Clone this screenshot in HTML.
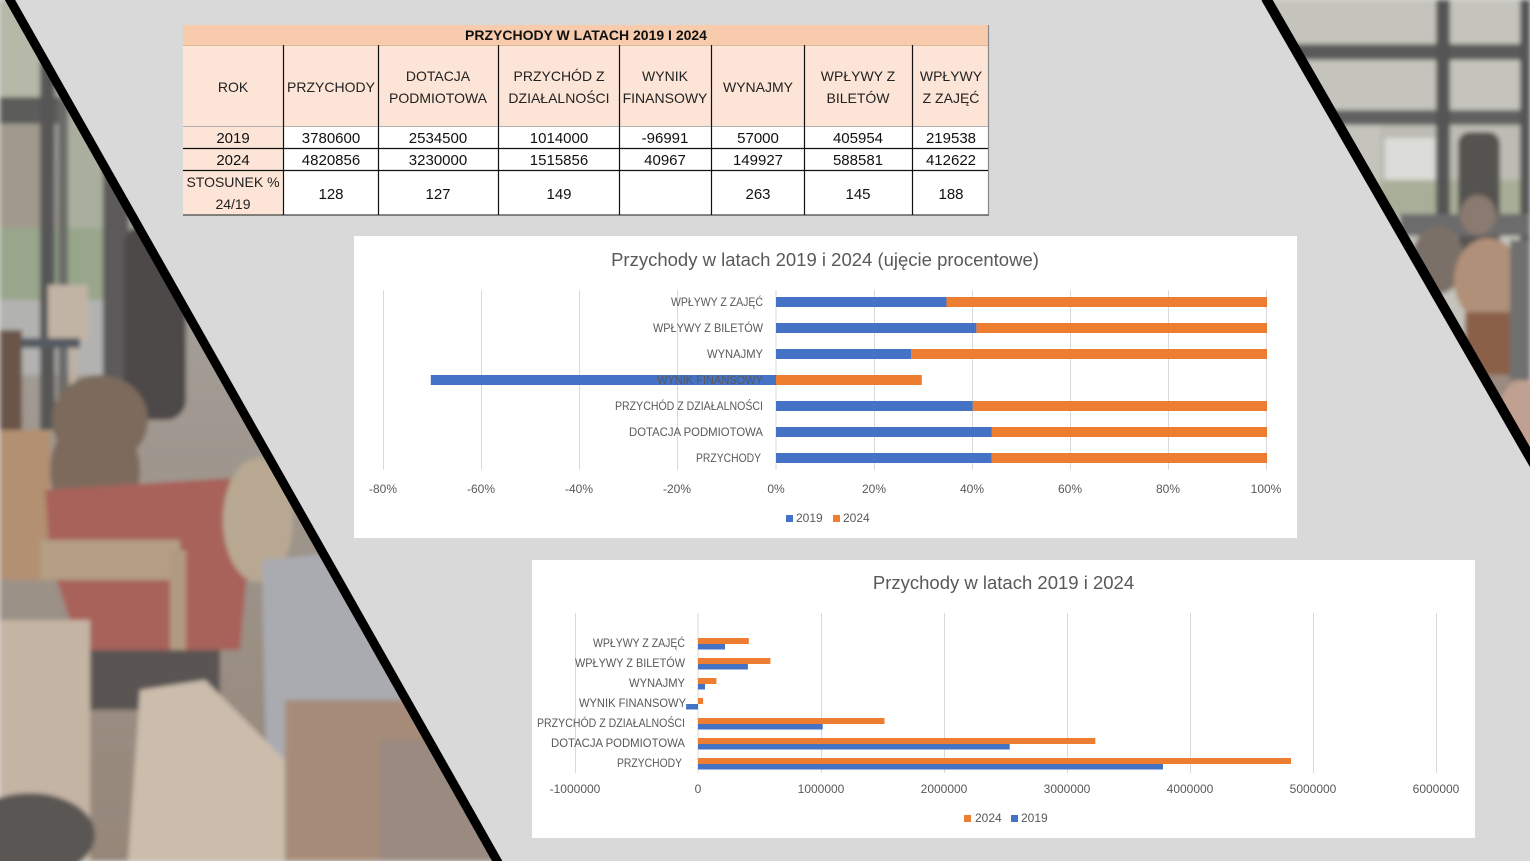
<!DOCTYPE html>
<html><head><meta charset="utf-8"><style>
html,body{margin:0;padding:0;background:#d9d9d9;}
svg{display:block;font-family:"Liberation Sans",Arial,sans-serif;}
</style></head><body>
<svg width="1530" height="861" viewBox="0 0 1530 861" xmlns="http://www.w3.org/2000/svg">
<defs>
<clipPath id="cl"><polygon points="0,0 12,0 499,861 0,861"/></clipPath>
<clipPath id="cr"><polygon points="1265,0 1530,0 1530,460"/></clipPath>
<filter id="bl" x="-5%" y="-5%" width="110%" height="110%"><feGaussianBlur stdDeviation="2.5"/></filter>
<linearGradient id="gl" x1="0" y1="0" x2="0" y2="1"><stop offset="0" stop-color="#aeaea6"/><stop offset="0.5" stop-color="#a09890"/><stop offset="1" stop-color="#958678"/></linearGradient>
</defs>
<rect width="1530" height="861" fill="#d9d9d9"/>

<!-- left photo -->
<g clip-path="url(#cl)"><g filter="url(#bl)">
<rect x="0" y="0" width="520" height="861" fill="url(#gl)"/>
<rect x="0" y="0" width="45" height="100" fill="#b6b8a8"/>
<rect x="0" y="125" width="42" height="110" fill="#a09a8c"/>
<rect x="68" y="100" width="36" height="130" fill="#a9ae9e"/>
<rect x="128" y="100" width="130" height="130" fill="#aaaaa2"/>
<rect x="0" y="228" width="104" height="75" fill="#98a68c"/>
<rect x="128" y="228" width="130" height="70" fill="#9eaa92"/>
<rect x="0" y="300" width="130" height="75" fill="#b2b2b0"/>
<rect x="0" y="97" width="62" height="27" fill="#5c5c5a"/>
<rect x="40" y="60" width="15" height="370" fill="#575757"/>
<rect x="58" y="100" width="10" height="330" fill="#6a6a68"/>
<rect x="103" y="100" width="26" height="330" fill="#5c5a5a"/>
<rect x="124" y="225" width="62" height="195" rx="20" fill="#4e4a4a"/>
<rect x="48" y="285" width="40" height="55" fill="#c2b4a4"/>
<rect x="8" y="338" width="72" height="10" fill="#555a62"/>
<rect x="12" y="348" width="6" height="70" fill="#c0b0a0"/>
<rect x="70" y="348" width="6" height="70" fill="#c0b0a0"/>
<rect x="0" y="330" width="22" height="110" fill="#6a5448"/>
<ellipse cx="100" cy="420" rx="48" ry="45" fill="#7c6a5c"/>
<rect x="0" y="430" width="50" height="150" fill="#b39072"/>
<ellipse cx="95" cy="470" rx="45" ry="55" fill="#7e6a5c"/>
<polygon points="45,490 230,478 248,560 240,650 80,650 50,560" fill="#a8625a"/>
<ellipse cx="258" cy="520" rx="35" ry="62" fill="#b8a892"/>
<polygon points="262,560 345,552 425,660 480,861 268,861" fill="#a9abb0"/>
<rect x="40" y="540" width="140" height="40" fill="#b49e84"/>
<rect x="170" y="550" width="16" height="200" fill="#b09a80"/>
<rect x="70" y="650" width="150" height="60" fill="#5a5452"/>
<rect x="0" y="620" width="90" height="241" fill="#c4b4a4"/>
<polygon points="140,690 205,680 285,760 285,861 128,861" fill="#cbbcac"/>
<ellipse cx="30" cy="835" rx="65" ry="42" fill="#5a5652"/>
<rect x="285" y="700" width="150" height="161" fill="#a68c78"/>
<rect x="380" y="740" width="120" height="121" fill="#9a8a80"/>
</g></g>
<line x1="8.9" y1="-2" x2="500" y2="866" stroke="#000" stroke-width="9"/>

<!-- right photo -->
<g clip-path="url(#cr)"><g filter="url(#bl)">
<rect x="1260" y="0" width="270" height="470" fill="#c4c4bc"/>
<rect x="1290" y="44" width="240" height="16" fill="#5a5a5a"/>
<rect x="1330" y="110" width="200" height="15" fill="#606060"/>
<rect x="1380" y="125" width="150" height="60" fill="#bcbcb4"/>
<rect x="1385" y="138" width="50" height="42" fill="#dcdcd8"/>
<rect x="1380" y="180" width="150" height="36" fill="#a8ae98"/>
<rect x="1436" y="0" width="14" height="230" fill="#555555"/>
<rect x="1520" y="0" width="10" height="240" fill="#555555"/>
<rect x="1458" y="132" width="42" height="130" rx="12" fill="#555350"/>
<rect x="1400" y="214" width="130" height="22" fill="#6c6c6c"/>
<ellipse cx="1438" cy="260" rx="26" ry="34" fill="#7a7068"/>
<ellipse cx="1478" cy="215" rx="18" ry="20" fill="#8a7a70"/>
<ellipse cx="1488" cy="280" rx="34" ry="42" fill="#b09078"/>
<rect x="1465" y="312" width="55" height="65" fill="#8a6048"/>
<rect x="1450" y="375" width="80" height="90" fill="#9a8a80"/>
<ellipse cx="1522" cy="420" rx="25" ry="40" fill="#c0a090"/>
<rect x="1510" y="240" width="20" height="140" fill="#707070"/>
</g></g>
<line x1="1265.8" y1="-2" x2="1535" y2="465.8" stroke="#000" stroke-width="10"/>

<!-- TABLE -->
<rect x="183" y="25" width="806" height="20" fill="#f8cbad"/>
<rect x="183" y="45" width="806" height="81" fill="#fce4d6"/>
<rect x="183" y="126" width="100" height="89" fill="#fce4d6"/>
<rect x="283" y="126" width="706" height="89" fill="#ffffff"/>
<g stroke="#e0b89c" stroke-width="1"><line x1="183" y1="45.5" x2="989" y2="45.5"/></g>
<g stroke="#b0b0b0" stroke-width="1"><line x1="183" y1="126.5" x2="989" y2="126.5"/></g>
<g stroke="#111" stroke-width="1.2">
<line x1="183" y1="148.5" x2="989" y2="148.5"/>
<line x1="183" y1="170.5" x2="989" y2="170.5"/>
</g>
<g stroke="#444" stroke-width="1.2"><line x1="183" y1="215" x2="989" y2="215"/><line x1="988.5" y1="25" x2="988.5" y2="215" stroke="#888"/></g>
<g stroke="#111" stroke-width="1.2">
<line x1="283.5" y1="45" x2="283.5" y2="215"/>
<line x1="378.5" y1="45" x2="378.5" y2="215"/>
<line x1="498.5" y1="45" x2="498.5" y2="215"/>
<line x1="619.5" y1="45" x2="619.5" y2="215"/>
<line x1="711.5" y1="45" x2="711.5" y2="215"/>
<line x1="804.5" y1="45" x2="804.5" y2="215"/>
<line x1="912.5" y1="45" x2="912.5" y2="215"/>
</g>
<text x="586" y="40" font-size="14" font-weight="bold" text-anchor="middle" fill="#111">PRZYCHODY W LATACH 2019 I 2024</text>
<g font-size="14" text-anchor="middle" fill="#222">
<text x="233" y="92">ROK</text>
<text x="331" y="92">PRZYCHODY</text>
<text x="438" y="81">DOTACJA</text><text x="438" y="103">PODMIOTOWA</text>
<text x="559" y="81">PRZYCHÓD Z</text><text x="559" y="103">DZIAŁALNOŚCI</text>
<text x="665" y="81">WYNIK</text><text x="665" y="103">FINANSOWY</text>
<text x="758" y="92">WYNAJMY</text>
<text x="858" y="81">WPŁYWY Z</text><text x="858" y="103">BILETÓW</text>
<text x="951" y="81">WPŁYWY</text><text x="951" y="103">Z ZAJĘĆ</text>
<text x="233" y="187">STOSUNEK %</text><text x="233" y="209">24/19</text>
</g>
<g font-size="15" text-anchor="middle" fill="#111">
<text x="233" y="143">2019</text><text x="331" y="143">3780600</text><text x="438" y="143">2534500</text><text x="559" y="143">1014000</text><text x="665" y="143">-96991</text><text x="758" y="143">57000</text><text x="858" y="143">405954</text><text x="951" y="143">219538</text>
<text x="233" y="165">2024</text><text x="331" y="165">4820856</text><text x="438" y="165">3230000</text><text x="559" y="165">1515856</text><text x="665" y="165">40967</text><text x="758" y="165">149927</text><text x="858" y="165">588581</text><text x="951" y="165">412622</text>
<text x="331" y="199">128</text><text x="438" y="199">127</text><text x="559" y="199">149</text><text x="758" y="199">263</text><text x="858" y="199">145</text><text x="951" y="199">188</text>
</g>

<!-- CHART 1 -->
<rect x="354" y="236" width="943" height="302" fill="#ffffff"/>
<text x="825" y="266" font-size="18.5" text-anchor="middle" fill="#595959">Przychody w latach 2019 i 2024 (ujęcie procentowe)</text>
<g stroke="#d9d9d9" stroke-width="1">
<line x1="383.5" y1="290" x2="383.5" y2="470"/><line x1="481.5" y1="290" x2="481.5" y2="470"/><line x1="579.5" y1="290" x2="579.5" y2="470"/><line x1="677.5" y1="290" x2="677.5" y2="470"/><line x1="776" y1="290" x2="776" y2="470"/><line x1="874.5" y1="290" x2="874.5" y2="470"/><line x1="972.5" y1="290" x2="972.5" y2="470"/><line x1="1070.5" y1="290" x2="1070.5" y2="470"/><line x1="1168.5" y1="290" x2="1168.5" y2="470"/><line x1="1266.5" y1="290" x2="1266.5" y2="470"/>
</g>
<g>
<rect x="776" y="297" width="170.5" height="10" fill="#4472c4"/><rect x="946.5" y="297" width="320.5" height="10" fill="#ed7d31"/>
<rect x="776" y="323" width="200.4" height="10" fill="#4472c4"/><rect x="976.4" y="323" width="290.6" height="10" fill="#ed7d31"/>
<rect x="776" y="349" width="135.3" height="10" fill="#4472c4"/><rect x="911.3" y="349" width="355.7" height="10" fill="#ed7d31"/>
<rect x="430.8" y="375" width="345.2" height="10" fill="#4472c4"/><rect x="776" y="375" width="145.8" height="10" fill="#ed7d31"/>
<rect x="776" y="401" width="196.8" height="10" fill="#4472c4"/><rect x="972.8" y="401" width="294.2" height="10" fill="#ed7d31"/>
<rect x="776" y="427" width="215.9" height="10" fill="#4472c4"/><rect x="991.9" y="427" width="275.1" height="10" fill="#ed7d31"/>
<rect x="776" y="453" width="215.8" height="10" fill="#4472c4"/><rect x="991.8" y="453" width="275.2" height="10" fill="#ed7d31"/>
</g>
<g font-size="12" text-anchor="end" fill="#595959" lengthAdjust="spacingAndGlyphs">
<text x="763" y="306" textLength="92" lengthAdjust="spacingAndGlyphs">WPŁYWY Z ZAJĘĆ</text>
<text x="763" y="332" textLength="110" lengthAdjust="spacingAndGlyphs">WPŁYWY Z BILETÓW</text>
<text x="763" y="358" textLength="56" lengthAdjust="spacingAndGlyphs">WYNAJMY</text>
<text x="763" y="384" textLength="106" lengthAdjust="spacingAndGlyphs">WYNIK FINANSOWY</text>
<text x="763" y="410" textLength="148" lengthAdjust="spacingAndGlyphs">PRZYCHÓD Z DZIAŁALNOŚCI</text>
<text x="763" y="436" textLength="134" lengthAdjust="spacingAndGlyphs">DOTACJA PODMIOTOWA</text>
<text x="761" y="462" textLength="65" lengthAdjust="spacingAndGlyphs">PRZYCHODY</text>
</g>
<g font-size="12" text-anchor="middle" fill="#595959">
<text x="383" y="493">-80%</text><text x="481" y="493">-60%</text><text x="579" y="493">-40%</text><text x="677" y="493">-20%</text><text x="776" y="493">0%</text><text x="874" y="493">20%</text><text x="972" y="493">40%</text><text x="1070" y="493">60%</text><text x="1168" y="493">80%</text><text x="1266" y="493">100%</text>
</g>
<rect x="786" y="515" width="7" height="7" fill="#4472c4"/>
<text x="796" y="522" font-size="12" fill="#595959">2019</text>
<rect x="833" y="515" width="7" height="7" fill="#ed7d31"/>
<text x="843" y="522" font-size="12" fill="#595959">2024</text>

<!-- CHART 2 -->
<rect x="532" y="560" width="943" height="278" fill="#ffffff"/>
<text x="1003.5" y="589" font-size="18.5" text-anchor="middle" fill="#595959">Przychody w latach 2019 i 2024</text>
<g stroke="#d9d9d9" stroke-width="1">
<line x1="575.5" y1="613" x2="575.5" y2="773"/><line x1="698" y1="613" x2="698" y2="773"/><line x1="821.5" y1="613" x2="821.5" y2="773"/><line x1="944.5" y1="613" x2="944.5" y2="773"/><line x1="1067.5" y1="613" x2="1067.5" y2="773"/><line x1="1190.5" y1="613" x2="1190.5" y2="773"/><line x1="1313.5" y1="613" x2="1313.5" y2="773"/><line x1="1436.5" y1="613" x2="1436.5" y2="773"/>
</g>
<g>
<rect x="698" y="638" width="50.8" height="6" fill="#ed7d31"/><rect x="698" y="644" width="27" height="5.5" fill="#4472c4"/>
<rect x="698" y="658" width="72.4" height="6" fill="#ed7d31"/><rect x="698" y="664" width="49.9" height="5.5" fill="#4472c4"/>
<rect x="698" y="678" width="18.4" height="6" fill="#ed7d31"/><rect x="698" y="684" width="7" height="5.5" fill="#4472c4"/>
<rect x="698" y="698" width="5.1" height="6" fill="#ed7d31"/><rect x="686.1" y="704" width="11.9" height="5.5" fill="#4472c4"/>
<rect x="698" y="718" width="186.5" height="6" fill="#ed7d31"/><rect x="698" y="724" width="124.7" height="5.5" fill="#4472c4"/>
<rect x="698" y="738" width="397.3" height="6" fill="#ed7d31"/><rect x="698" y="744" width="311.7" height="5.5" fill="#4472c4"/>
<rect x="698" y="758" width="593" height="6" fill="#ed7d31"/><rect x="698" y="764" width="465" height="5.5" fill="#4472c4"/>
</g>
<g font-size="12" text-anchor="end" fill="#595959">
<text x="685" y="647" textLength="92" lengthAdjust="spacingAndGlyphs">WPŁYWY Z ZAJĘĆ</text>
<text x="685" y="667" textLength="110" lengthAdjust="spacingAndGlyphs">WPŁYWY Z BILETÓW</text>
<text x="685" y="687" textLength="56" lengthAdjust="spacingAndGlyphs">WYNAJMY</text>
<text x="686" y="707" textLength="107" lengthAdjust="spacingAndGlyphs">WYNIK FINANSOWY</text>
<text x="685" y="727" textLength="148" lengthAdjust="spacingAndGlyphs">PRZYCHÓD Z DZIAŁALNOŚCI</text>
<text x="685" y="747" textLength="134" lengthAdjust="spacingAndGlyphs">DOTACJA PODMIOTOWA</text>
<text x="682" y="767" textLength="65" lengthAdjust="spacingAndGlyphs">PRZYCHODY</text>
</g>
<g font-size="12" text-anchor="middle" fill="#595959">
<text x="575" y="793">-1000000</text><text x="698" y="793">0</text><text x="821" y="793">1000000</text><text x="944" y="793">2000000</text><text x="1067" y="793">3000000</text><text x="1190" y="793">4000000</text><text x="1313" y="793">5000000</text><text x="1436" y="793">6000000</text>
</g>
<rect x="964" y="815" width="7" height="7" fill="#ed7d31"/>
<text x="975" y="822" font-size="12" fill="#595959">2024</text>
<rect x="1011" y="815" width="7" height="7" fill="#4472c4"/>
<text x="1021" y="822" font-size="12" fill="#595959">2019</text>
</svg>
</body></html>
